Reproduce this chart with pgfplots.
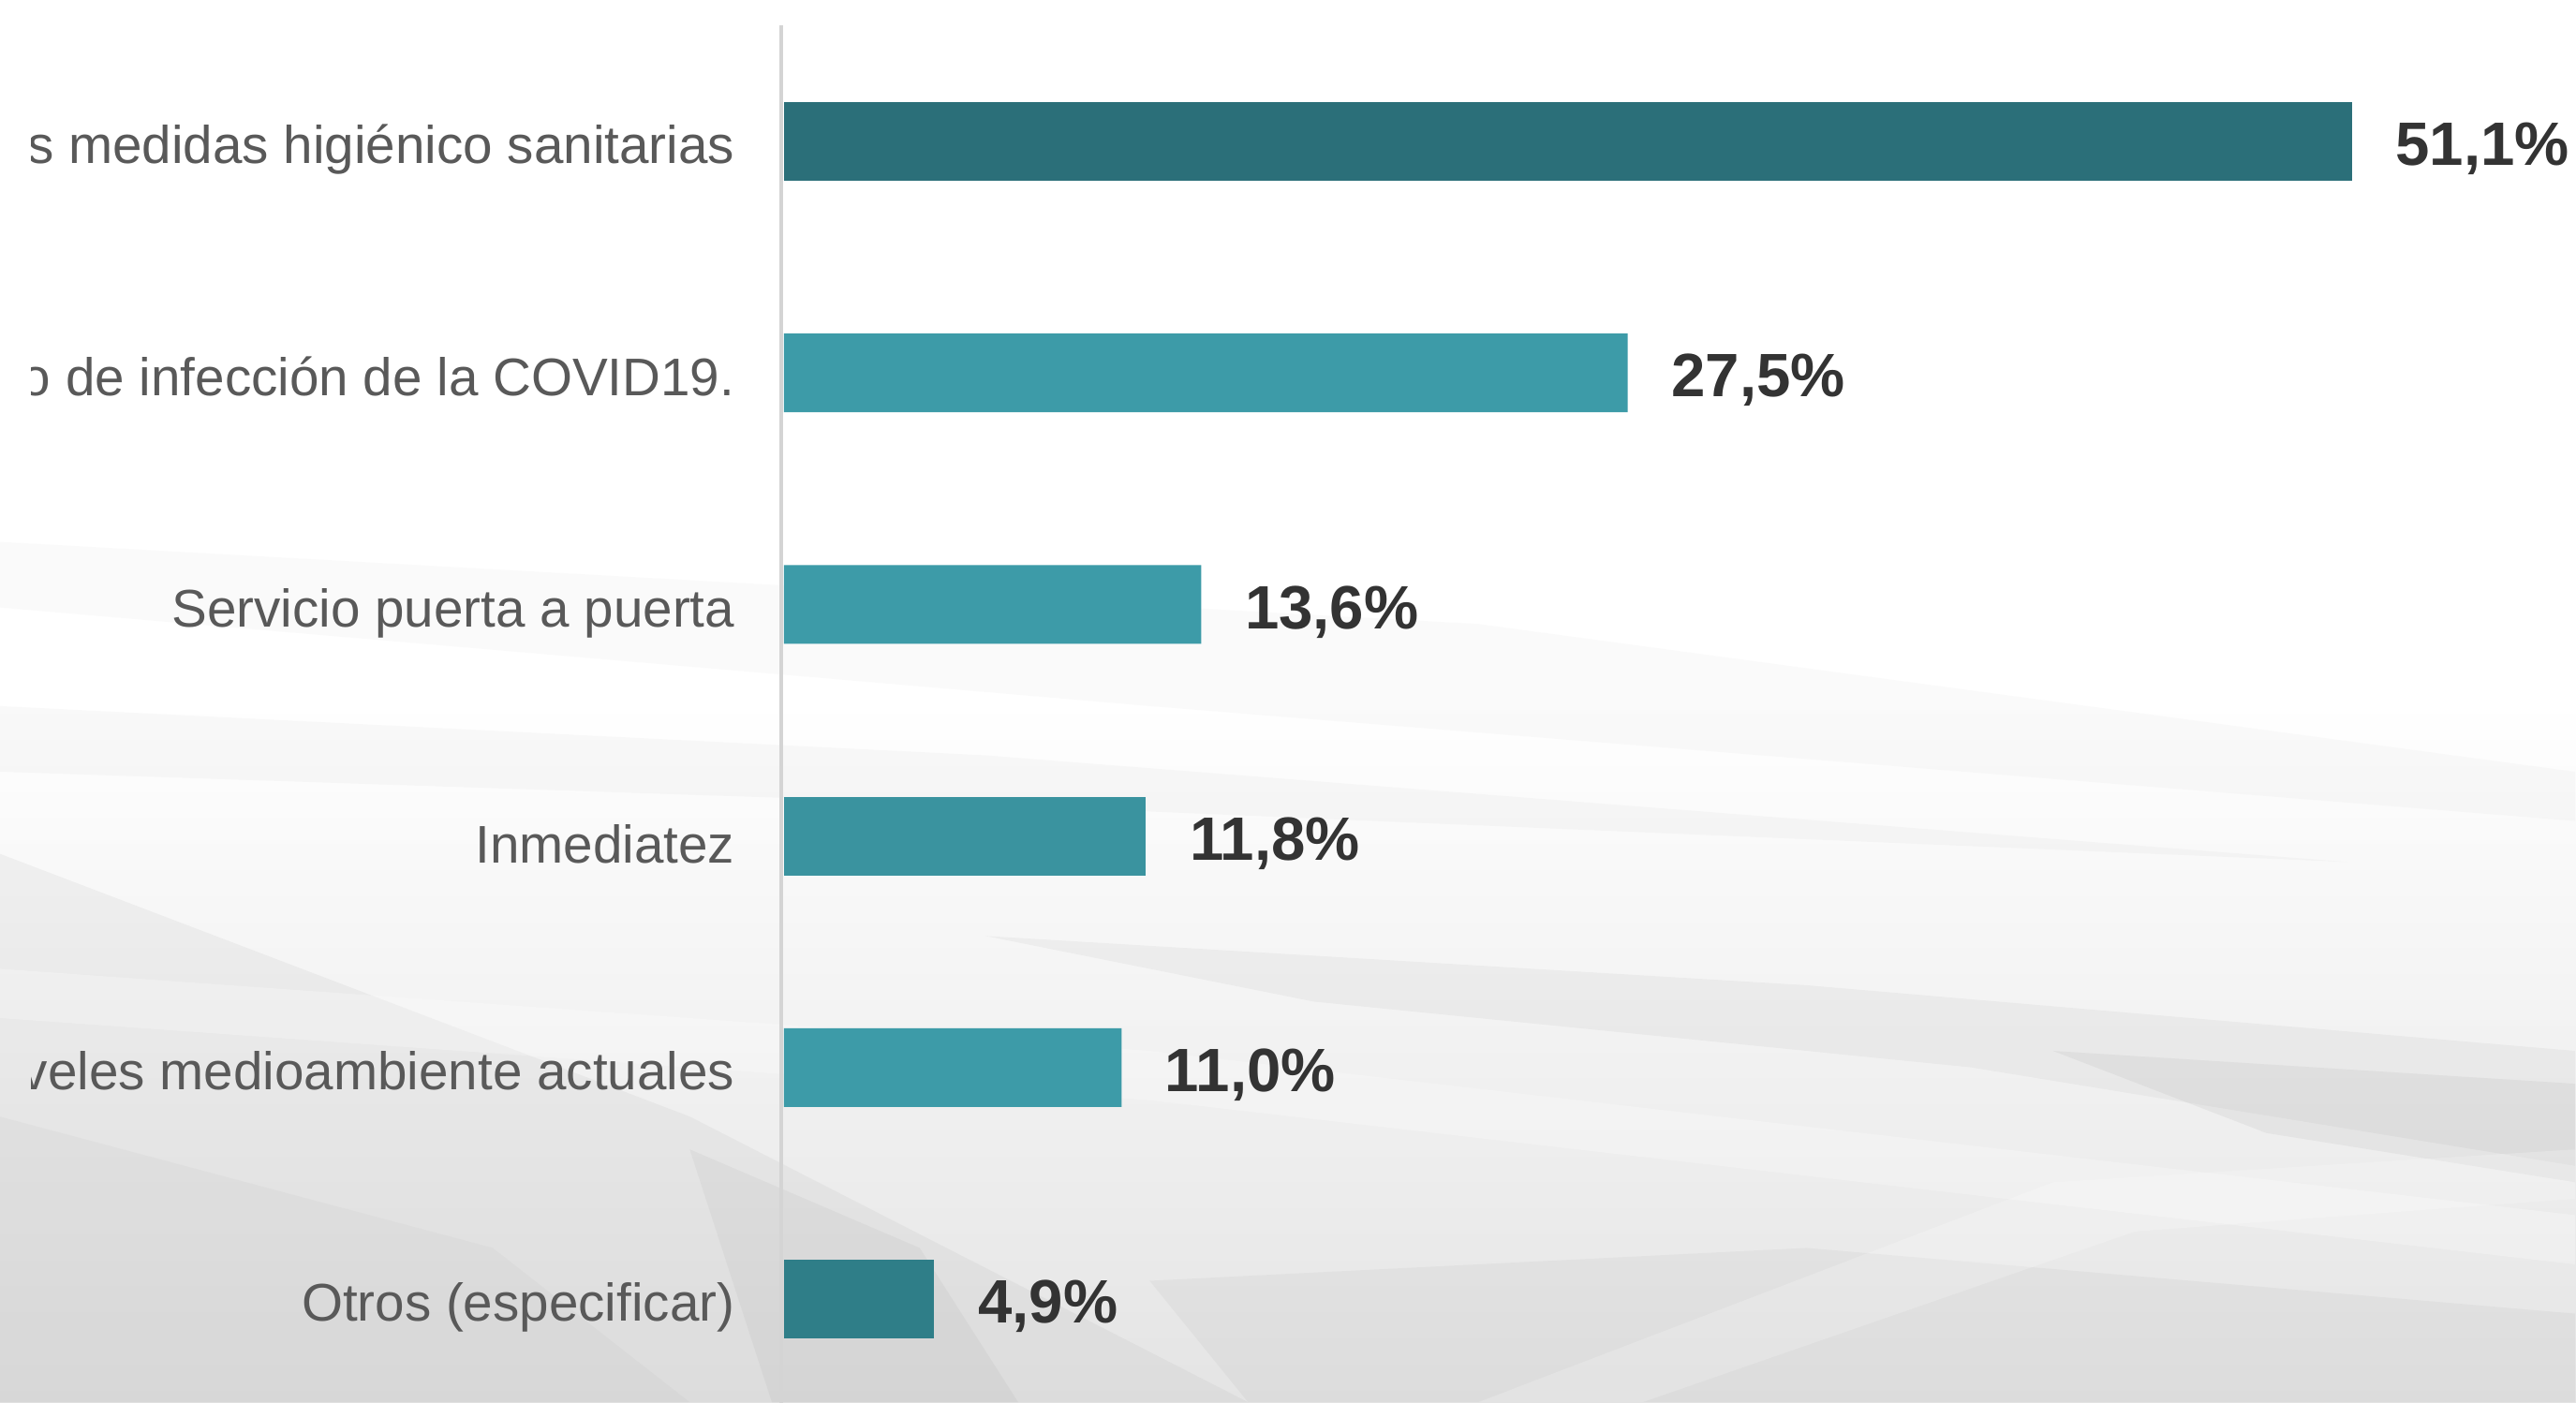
\documentclass[border=0pt]{standalone}
\usepackage{pgfplots}
\pgfplotsset{compat=1.18}
\usepackage{fontspec}
\setmainfont{Liberation Sans}

\definecolor{bardark}{HTML}{2B6F79}
\definecolor{barmain}{HTML}{3D9BA8}
\definecolor{barmid}{HTML}{3A939F}
\definecolor{barlow}{HTML}{2F7E88}
\definecolor{labelgray}{HTML}{595959}
\definecolor{valgray}{HTML}{333333}
\definecolor{linegray}{HTML}{D4D4D4}
\definecolor{bggray}{HTML}{E4E4E4}

\begin{document}
\begin{tikzpicture}
\useasboundingbox (0,0) rectangle (27.5,14.98);

% background (white top, grey geometric pattern below)
\fill[white] (0,0) rectangle (27.5,14.98);
\shade[top color=white, bottom color=bggray] (0,0) rectangle (27.5,7.5);
\begin{scope}[yshift=14.98cm, x=0.017538cm, y=-0.017538cm]
  \fill[gray, opacity=0.035] (0,330) -- (900,380) -- (1568,470) -- (1568,500) -- (700,430) -- (0,370) -- cycle;
  \fill[gray, opacity=0.045] (0,430) -- (600,460) -- (1430,525) -- (600,490) -- (0,470) -- cycle;
  \fill[gray, opacity=0.08] (0,520) -- (420,680) -- (760,854) -- (0,854) -- cycle;
  \fill[gray, opacity=0.05] (0,680) -- (300,760) -- (420,854) -- (0,854) -- cycle;
  \fill[gray, opacity=0.08] (420,700) -- (560,760) -- (620,854) -- (470,854) -- cycle;
  \fill[gray, opacity=0.07] (600,570) -- (1100,600) -- (1568,640) -- (1568,710) -- (1200,650) -- (800,610) -- cycle;
  \fill[gray, opacity=0.09] (1250,640) -- (1568,660) -- (1568,720) -- (1380,690) -- cycle;
  \fill[gray, opacity=0.07] (700,780) -- (1100,760) -- (1568,800) -- (1568,854) -- (760,854) -- cycle;
  \fill[white, opacity=0.25] (0,590) -- (700,640) -- (1568,740) -- (1568,770) -- (700,670) -- (0,620) -- cycle;
  \fill[white, opacity=0.2] (900,854) -- (1250,720) -- (1568,700) -- (1568,730) -- (1300,750) -- (1000,854) -- cycle;
\end{scope}

\begin{scope}
\clip (0.34,0) rectangle (27.5,14.98);
\begin{axis}[
    at={(8.37cm,0cm)}, anchor=south west,
    scale only axis,
    width=19.13cm, height=14.98cm,
    xbar, bar width=0.84cm,
    xmin=0, xmax=58.41,
    ymin=-0.449, ymax=5.611,
    axis line style={draw=none},
    major tick length=0pt,
    xtick=\empty,
    ytick={0,1,2,3,4,5},
    yticklabels={Otros (especificar),
                 Mejora de los niveles medioambiente actuales,
                 Inmediatez,
                 Servicio puerta a puerta,
                 Menor riesgo de infección de la COVID19.,
                 Cumplimiento de las medidas higiénico sanitarias},
    yticklabel style={anchor=east, inner sep=0pt, xshift=-0.52cm, yshift=-0.09cm,
        font=\fontsize{16.1}{19}\selectfont, text=labelgray},
    point meta=explicit symbolic,
    nodes near coords,
    nodes near coords style={anchor=west, inner sep=0pt, xshift=0.46cm, yshift=-0.08cm,
        font=\fontsize{18.6}{22}\selectfont\bfseries, text=valgray},
    clip=false,
]
\draw[linegray, line width=0.035cm] ([xshift=-0.3mm]axis cs:0,5.5) -- ([xshift=-0.3mm]axis cs:0,-0.449);
\addplot[fill=bardark, draw=none, bar shift=0pt] coordinates {(51.1,5) [51,1\%]};
\addplot[fill=barmain, draw=none, bar shift=0pt] coordinates {(27.5,4) [27,5\%] (13.6,3) [13,6\%] (11.0,1) [11,0\%]};
\addplot[fill=barmid, draw=none, bar shift=0pt] coordinates {(11.8,2) [11,8\%]};
\addplot[fill=barlow, draw=none, bar shift=0pt] coordinates {(4.9,0) [4,9\%]};
\end{axis}
\end{scope}
\end{tikzpicture}
\end{document}
